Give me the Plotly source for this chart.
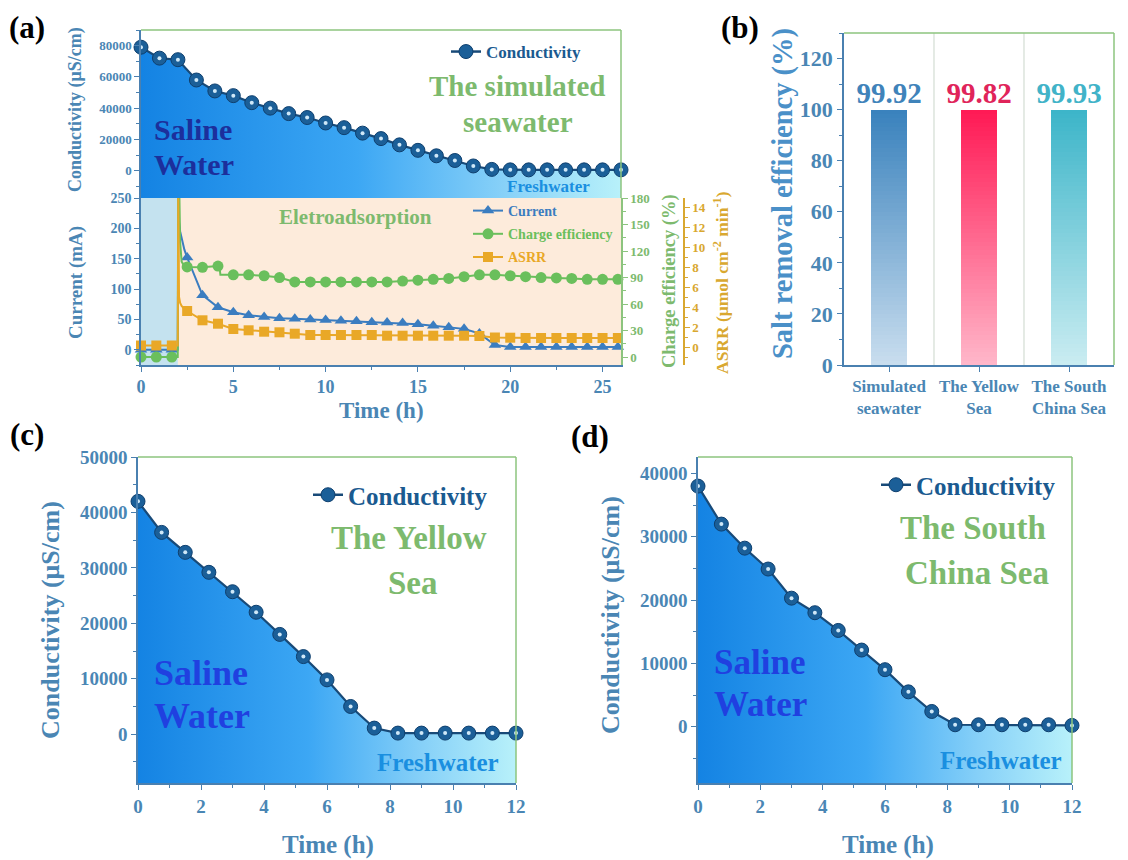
import plotly.graph_objects as go

# ======================= DATA =======================
# (a) upper panel: conductivity of the simulated seawater (one reading per hour)
a_time_h = [0, 1, 2, 3, 4, 5, 6, 7, 8, 9, 10, 11, 12, 13, 14, 15, 16, 17, 18, 19, 20,
            21, 22, 23, 24, 25, 26]
a_conductivity = [79000, 72000, 71000, 58000, 51000, 48000, 43500, 40000, 36500, 34000,
                  30500, 27500, 24000, 20500, 16500, 13000, 9500, 6500, 3000, 800,
                  500, 500, 500, 500, 500, 500, 500]

# (a) lower panel: readings every 50 min (marker points)
e_time_h = [0, 0.83, 1.67, 2.5, 3.33, 4.17, 5.0, 5.83, 6.67, 7.5, 8.33, 9.17, 10.0,
            10.83, 11.67, 12.5, 13.33, 14.17, 15.0, 15.83, 16.67, 17.5, 18.33, 19.17,
            20.0, 20.83, 21.67, 22.5, 23.33, 24.17, 25.0, 25.83]
current_mA = [0, 0, 0, 152, 90, 70, 62, 57, 54, 52, 51, 50, 49, 48, 47, 45.5, 45, 44,
              42, 39.5, 37, 34.5, 27, 8, 4.5, 4.5, 4.5, 4.5, 4.5, 4.5, 4.5, 4.5]
charge_eff_pct = [0, 0, 0, 102, 101.5, 103, 93, 93, 92, 90, 85, 85, 85, 85, 85, 85, 85,
                  86, 87, 88, 89, 91, 93, 93, 92, 91, 90, 89.5, 89, 88, 88, 88]
asrr = [0.15, 0.15, 0.15, 3.6, 2.67, 2.33, 1.8, 1.67, 1.53, 1.47, 1.33, 1.2, 1.2, 1.2,
        1.2, 1.2, 1.13, 1.13, 1.13, 1.13, 1.13, 1.13, 1.1, 0.95, 0.93, 0.9, 0.9, 0.9,
        0.9, 0.9, 0.9, 0.9]
# extra line-only samples around the voltage switch (spike) at ~2 h
spike_time_h = [1.99, 2.02, 2.06, 2.12, 2.2, 2.35]
current_spike = [0, 205, 210, 195, 183, 165]
charge_spike = [0, 260, 200, 130, 108, 103]
asrr_spike = [0.15, 16, 5.0, 4.4, 4.1, 3.8]
# charge efficiency step near 4.3 h
charge_step_time_h = [4.25, 4.3]
charge_step = [103, 93]
# phases (h): rest then electro-adsorption
phase_rest = [0, 2]
phase_ads = [2, 26]

# (b) salt removal efficiency
b_categories = ["Simulated<br>seawater", "The Yellow<br>Sea", "The South<br>China Sea"]
b_values = [99.92, 99.82, 99.93]
b_labels = ["99.92", "99.82", "99.93"]

# (c) The Yellow Sea and (d) The South China Sea, every 0.75 h
cd_time_h = [0, 0.75, 1.5, 2.25, 3.0, 3.75, 4.5, 5.25, 6.0, 6.75, 7.5, 8.25, 9.0,
             9.75, 10.5, 11.25, 12.0]
c_conductivity = [42000, 36400, 32800, 29200, 25700, 22000, 18000, 14000, 9800, 5000,
                  1100, 200, 200, 200, 200, 200, 200]
d_conductivity = [38000, 32000, 28200, 24900, 20300, 18000, 15200, 12100, 9000, 5500,
                  2400, 300, 300, 300, 300, 300, 200]

# axis ranges
A_TOP_RANGE = [-17500, 90000]
A_BOT_RANGE = [-25, 250]
CE_RANGE = [-9, 180]
ASRR_RANGE = [-1.8, 14.9]
B_RANGE = [0, 130]
C_RANGE = [-8800, 50000]
D_RANGE = [-8900, 42600]

# ======================= STYLE =======================
OFF = 8                      # page body margin of the browser
W, H = 1128 - OFF, 860 - OFF
SERIF = "Liberation Serif, Times New Roman, serif"
TICK_C = "#4a86b4"
SPINE_C = "#4a80b0"
GREEN = "#7dba6e"
FRAME_G = "#8cc47e"
GOLD = "#d9a830"
COND_LINE = "#184a78"
COND_MARK = "#1b5f98"
CUR_C = "#3b7dc0"
CE_C = "#6abf5c"
ASRR_C = "#e9a827"
FILL_SCALE = [[0, "#1483e3"], [0.45, "#3ca7f4"], [0.75, "#86d0f8"], [1, "#b8f1fa"]]


def px_x(p):
    return (p - OFF) / W


def px_y(p):
    return 1 - (p - OFF) / H


def f(size, color, bold=True):
    d = dict(family=SERIF, size=size, color=color)
    if bold:
        d["weight"] = "bold"
    return d


fig = go.Figure()


def conductivity_panel(xa, ya, t, v, yr, legend, msize):
    fig.add_trace(go.Scatter(x=t, y=[yr[0]] * len(t), mode="lines", line=dict(width=0),
                             xaxis=xa, yaxis=ya, showlegend=False, hoverinfo="skip"))
    fig.add_trace(go.Scatter(x=t, y=v, mode="lines", fill="tonexty",
                             fillgradient=dict(type="horizontal", colorscale=FILL_SCALE),
                             line=dict(color=COND_LINE, width=2.2),
                             xaxis=xa, yaxis=ya, showlegend=False))
    fig.add_trace(go.Scatter(x=t, y=v, mode="markers",
                             marker=dict(size=msize, color=COND_MARK,
                                         line=dict(color="#0e3f6e", width=1)),
                             xaxis=xa, yaxis=ya, showlegend=False, cliponaxis=False))
    fig.add_trace(go.Scatter(x=t, y=v, mode="markers",
                             marker=dict(size=4, color="#cfe8f8"),
                             xaxis=xa, yaxis=ya, showlegend=False, cliponaxis=False))
    fig.add_trace(go.Scatter(x=[None], y=[None], mode="lines+markers", name="Conductivity",
                             line=dict(color=COND_LINE, width=2.5),
                             marker=dict(size=msize, color=COND_MARK,
                                         line=dict(color="#0e3f6e", width=1)),
                             xaxis=xa, yaxis=ya, legend=legend))


# ---- (a) upper
conductivity_panel("x", "y", a_time_h, a_conductivity, A_TOP_RANGE, "legend", 14)


# ---- (a) lower
def merged(t1, v1, t2, v2):
    pts = sorted(zip(list(t1) + list(t2), list(v1) + list(v2)))
    return [p[0] for p in pts], [p[1] for p in pts]


series = [
    ("Current", current_mA, current_spike, [], [], CUR_C, "triangle-up", "y2", 11),
    ("Charge efficiency", charge_eff_pct, charge_spike, charge_step_time_h, charge_step,
     CE_C, "circle", "y3", 11),
    ("ASRR", asrr, asrr_spike, [], [], ASRR_C, "square", "y4", 10),
]
for i, (name, vals, spk, st, sv, col, sym, ya, ms) in enumerate(series):
    lt, lv = merged(e_time_h, vals, spike_time_h + list(st), spk + list(sv))
    fig.add_trace(go.Scatter(x=lt, y=lv, mode="lines", line=dict(color=col, width=2),
                             xaxis="x2", yaxis=ya, showlegend=False))
    fig.add_trace(go.Scatter(x=e_time_h, y=vals, mode="markers",
                             marker=dict(size=ms, color=col, symbol=sym),
                             xaxis="x2", yaxis=ya, showlegend=False, cliponaxis=False))
    fig.add_trace(go.Scatter(x=[None], y=[None], mode="lines+markers",
                             name=f'<span style="color:{col}">{name}</span>',
                             line=dict(color=col, width=2),
                             marker=dict(size=ms, color=col, symbol=sym),
                             xaxis="x2", yaxis=ya, legend="legend2",
                             legendgroup=name))

# ---- (b) bars with vertical gradient (stacked slices of each value)
N_SEG = 60
tops = [(0x3a, 0x82, 0xbd), (0xff, 0x1a, 0x55), (0x3d, 0xb5, 0xc9)]
bots = [(0xc8, 0xdd, 0xee), (0xff, 0xb6, 0xc9), (0xc9, 0xec, 0xf1)]
for k in range(N_SEG):
    fr = k / (N_SEG - 1)
    cols = []
    for tc, bc in zip(tops, bots):
        c = tuple(round(bc[j] + (tc[j] - bc[j]) * fr) for j in range(3))
        cols.append("rgb(%d,%d,%d)" % c)
    fig.add_trace(go.Bar(x=b_categories, y=[v / N_SEG for v in b_values],
                         marker=dict(color=cols, line=dict(width=0)), width=0.39,
                         xaxis="x3", yaxis="y5", showlegend=False, hoverinfo="skip"))
fig.add_trace(go.Scatter(x=b_categories, y=b_values, mode="text", text=b_labels,
                         textposition="top center",
                         textfont=dict(family=SERIF, size=29, weight="bold",
                                       color=["#3f83ba", "#e0245a", "#41b3c8"]),
                         xaxis="x3", yaxis="y5", showlegend=False, cliponaxis=False))

# ---- (c), (d)
conductivity_panel("x4", "y6", cd_time_h, c_conductivity, C_RANGE, "legend3", 14)
conductivity_panel("x5", "y7", cd_time_h, d_conductivity, D_RANGE, "legend4", 14)

# ======================= AXES =======================
AX = [141, 621]
A_TOP = [30, 198]
A_BOT = [198, 365]


def dom_x(a, b):
    return [px_x(a), px_x(b)]


def dom_y(top, bottom):
    return [px_y(bottom), px_y(top)]


def yax(**kw):
    base = dict(showgrid=False, zeroline=False, showline=True, linecolor=SPINE_C,
                linewidth=1.5, ticks="outside", ticklen=5, tickcolor=SPINE_C,
                tickwidth=1.2, automargin=False, tickformat="d")
    base.update(kw)
    return base


fig.update_layout(
    xaxis=dict(domain=dom_x(*AX), anchor="y", range=[0, 26], showticklabels=False,
               showgrid=False, zeroline=False, showline=False, ticks="",
               automargin=False),
    yaxis=yax(domain=dom_y(*A_TOP), anchor="x", range=A_TOP_RANGE, dtick=20000, tick0=0,
              tickfont=f(13, TICK_C), minor=dict(dtick=10000, ticks="outside", ticklen=3,
                                                 tickcolor=SPINE_C)),
    xaxis2=yax(domain=dom_x(*AX), anchor="y2", range=[0, 26], dtick=5,
               tickfont=f(18, TICK_C),
               minor=dict(dtick=2.5, ticks="outside", ticklen=3, tickcolor=SPINE_C)),
    yaxis2=yax(domain=dom_y(*A_BOT), anchor="x2", range=A_BOT_RANGE, dtick=50, tick0=0,
               tickfont=f(14, TICK_C),
               minor=dict(dtick=25, ticks="outside", ticklen=3, tickcolor=SPINE_C)),
    yaxis3=yax(overlaying="y2", side="right", anchor="x2", range=CE_RANGE, dtick=30,
               tick0=0, linecolor=FRAME_G, tickcolor=FRAME_G, tickfont=f(13, GREEN),
               minor=dict(dtick=15, ticks="outside", ticklen=3, tickcolor=FRAME_G)),
    yaxis4=yax(overlaying="y2", side="right", anchor="free", position=px_x(684),
               range=ASRR_RANGE, dtick=2, tick0=0, linecolor=GOLD, tickcolor=GOLD,
               tickfont=f(13, GOLD),
               minor=dict(dtick=1, ticks="outside", ticklen=3, tickcolor=GOLD)),
    xaxis3=yax(domain=dom_x(844, 1114), anchor="y5", type="category", range=[-0.5, 2.5],
               tickfont=f(17, TICK_C), tickformat=""),
    yaxis5=yax(domain=dom_y(33, 365), anchor="x3", range=B_RANGE, dtick=20,
               tickfont=f(22, TICK_C),
               minor=dict(dtick=10, ticks="outside", ticklen=3, tickcolor=SPINE_C)),
    xaxis4=yax(domain=dom_x(138, 516), anchor="y6", range=[0, 12], dtick=2,
               tickfont=f(19, TICK_C),
               minor=dict(dtick=1, ticks="outside", ticklen=3, tickcolor=SPINE_C)),
    yaxis6=yax(domain=dom_y(457, 783), anchor="x4", range=C_RANGE, dtick=10000, tick0=0,
               tickfont=f(19, TICK_C),
               minor=dict(dtick=5000, ticks="outside", ticklen=3, tickcolor=SPINE_C)),
    xaxis5=yax(domain=dom_x(698, 1072), anchor="y7", range=[0, 12], dtick=2,
               tickfont=f(19, TICK_C),
               minor=dict(dtick=1, ticks="outside", ticklen=3, tickcolor=SPINE_C)),
    yaxis7=yax(domain=dom_y(457, 783), anchor="x5", range=D_RANGE, dtick=10000, tick0=0,
               tickfont=f(19, TICK_C),
               minor=dict(dtick=5000, ticks="outside", ticklen=3, tickcolor=SPINE_C)),
)

# ======================= SHAPES =======================
shapes = []
# phase backgrounds in (a) lower
shapes.append(dict(type="rect", xref="x2", yref="y2 domain", x0=phase_rest[0],
                   x1=phase_rest[1], y0=0, y1=1, fillcolor="#c4e2ef", line=dict(width=0),
                   layer="below"))
shapes.append(dict(type="rect", xref="x2", yref="y2 domain", x0=phase_ads[0],
                   x1=phase_ads[1], y0=0, y1=1, fillcolor="#fdebdb", line=dict(width=0),
                   layer="below"))
# green top/right frames
for xr, yr in [("x", "y"), ("x3", "y5"), ("x4", "y6"), ("x5", "y7")]:
    shapes.append(dict(type="line", xref=f"{xr} domain", yref=f"{yr} domain", x0=0, x1=1,
                       y0=1, y1=1, line=dict(color=FRAME_G, width=1.5)))
    shapes.append(dict(type="line", xref=f"{xr} domain", yref=f"{yr} domain", x0=1, x1=1,
                       y0=0, y1=1, line=dict(color=FRAME_G, width=1.5)))
# category separators in (b)
for xs in [0.5, 1.5]:
    shapes.append(dict(type="line", xref="x3", yref="y5 domain", x0=xs, x1=xs, y0=0, y1=1,
                       line=dict(color="#d3ddd3", width=1.2), layer="below"))
fig.update_layout(shapes=shapes)

# ======================= TEXT =======================
def ann(text, x, y, size, color, xanchor="center", angle=0):
    return dict(text=text, x=px_x(x), y=px_y(y), xref="paper", yref="paper",
                showarrow=False, font=f(size, color), xanchor=xanchor, yanchor="middle",
                textangle=angle)


anns = [
    ann("(a)", 27, 27, 31, "black"),
    ann("(b)", 740, 27, 31, "black"),
    ann("(c)", 27, 434, 31, "black"),
    ann("(d)", 590, 436, 31, "black"),
    # (a)
    ann("Saline", 152, 130, 30, "#1c2f9c", "left"),
    ann("Water", 152, 165, 30, "#1c2f9c", "left"),
    ann("Freshwater", 548, 186, 17, "#1a8fe0"),
    ann("The simulated", 517, 86, 29, GREEN),
    ann("seawater", 518, 122, 29, GREEN),
    ann("Eletroadsorption", 355, 217, 21, GREEN),
    ann("Conductivity (μS/cm)", 76, 110, 18, TICK_C, angle=-90),
    ann("Current (mA)", 76, 283, 19, TICK_C, angle=-90),
    ann("Time (h)", 381, 410, 23, TICK_C),
    ann("Charge efficiency (%)", 669, 281, 18.5, GREEN, angle=-90),
    ann("ASRR (μmol cm<sup>-2</sup> min<sup>-1</sup>)", 721, 283, 17.5, GOLD, angle=-90),
    # (b)
    ann("Salt removal efficiency (%)", 783, 194, 28.5, "#4a90c8", angle=-90),
    # (c)
    ann("Saline", 152, 673, 36, "#2040e0", "left"),
    ann("Water", 152, 716, 36, "#2040e0", "left"),
    ann("Freshwater", 438, 762, 25, "#1a8fe0"),
    ann("The Yellow", 409, 538, 33, GREEN),
    ann("Sea", 413, 583, 33, GREEN),
    ann("Conductivity (μS/cm)", 50, 620, 26, TICK_C, angle=-90),
    ann("Time (h)", 328, 845, 25, TICK_C),
    # (d)
    ann("Saline", 712, 662, 35, "#2040e0", "left"),
    ann("Water", 712, 704, 35, "#2040e0", "left"),
    ann("Freshwater", 1001, 760, 25, "#1a8fe0"),
    ann("The South", 973, 528, 33, GREEN),
    ann("China Sea", 977, 573, 33, GREEN),
    ann("Conductivity (μS/cm)", 610, 615, 26, TICK_C, angle=-90),
    ann("Time (h)", 888, 845, 25, TICK_C),
]
fig.update_layout(annotations=anns)

# ======================= LEGENDS =======================
def leg(x, y, size, color, yanchor="middle"):
    return dict(x=px_x(x), y=px_y(y), xref="paper", yref="paper", xanchor="left",
                yanchor=yanchor, bgcolor="rgba(0,0,0,0)", borderwidth=0,
                font=f(size, color), itemwidth=30, tracegroupgap=2)


fig.update_layout(
    legend=leg(446, 52, 17, "#1a5a90"),
    legend2=leg(468, 195, 14, CUR_C, "top"),
    legend3=leg(308, 495, 25, "#1a5a90"),
    legend4=leg(876, 485, 25, "#1a5a90"),
)

fig.update_layout(
    width=W, height=H, margin=dict(l=0, r=0, t=0, b=0, autoexpand=False),
    paper_bgcolor="white", plot_bgcolor="rgba(0,0,0,0)",
    barmode="stack", bargap=0, font=dict(family=SERIF),
)

fig.write_html("out.html")
